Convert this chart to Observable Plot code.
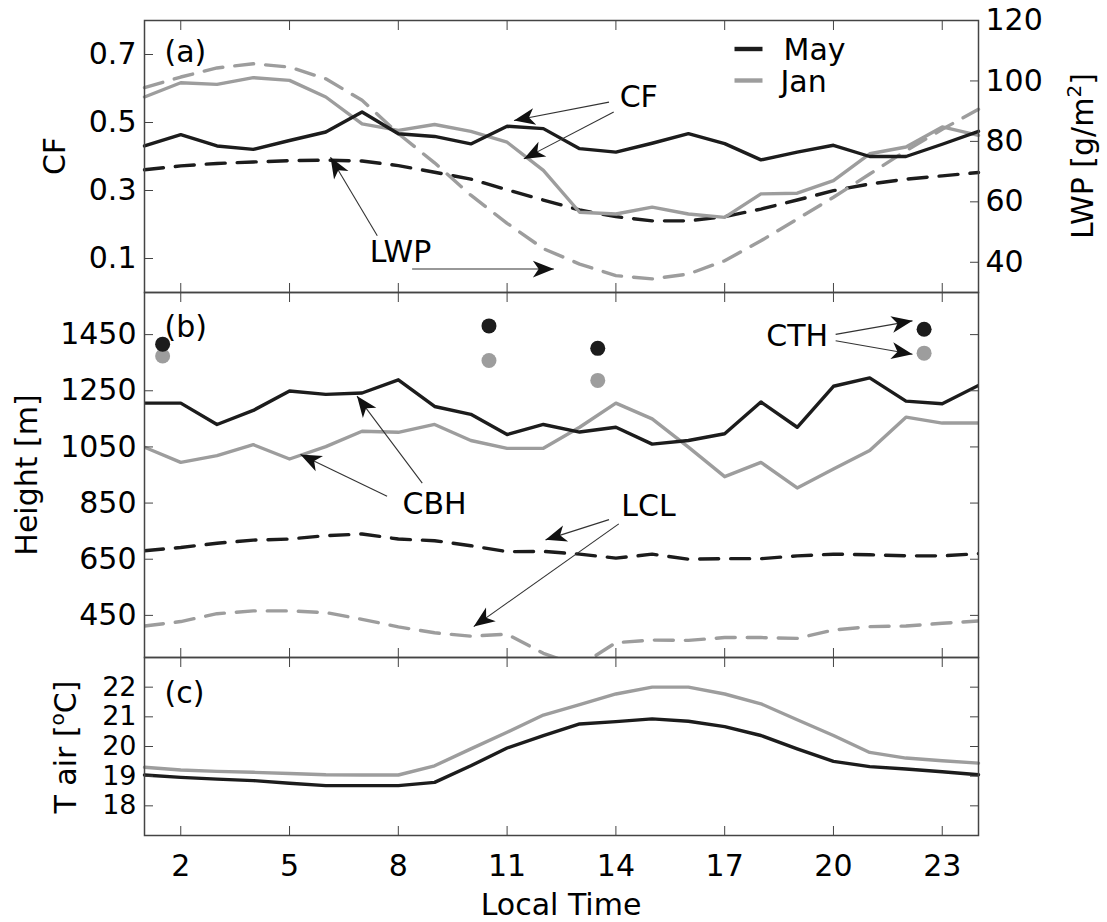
<!DOCTYPE html>
<html>
<head>
<meta charset="utf-8">
<script src="https://cdn.jsdelivr.net/npm/d3@7"></script>
<script src="https://cdn.jsdelivr.net/npm/@observablehq/plot@0.6"></script>
<style>
  body { margin: 0; background: #fff; }
  #chart { position: relative; width: 1107px; height: 922px; }
  #chart svg { position: absolute; left: 0; top: 0; background: transparent; overflow: visible; }
</style>
</head>
<body>
<div id="chart"></div>
<script>
// ---------------- data ----------------
const hours = [1,2,3,4,5,6,7,8,9,10,11,12,13,14,15,16,17,18,19,20,21,22,23,24];
const months = ["May", "Jan"];

const cfMay  = [0.431,0.464,0.431,0.421,0.447,0.472,0.531,0.467,0.459,0.437,0.489,0.482,0.423,0.413,0.439,0.467,0.438,0.390,0.413,0.433,0.400,0.400,0.436,0.474];
const cfJan  = [0.575,0.617,0.612,0.632,0.624,0.575,0.496,0.477,0.494,0.474,0.442,0.359,0.236,0.231,0.251,0.231,0.221,0.290,0.292,0.329,0.408,0.428,0.487,0.462];
const lwpMay = [70.6,71.9,72.7,73.2,73.6,73.8,73.5,72.0,69.8,67.5,64.0,60.6,57.3,55.1,53.7,53.7,55.1,57.6,60.6,63.7,65.9,67.5,68.6,69.7];
const lwpJan = [97.8,101.3,104.3,105.7,104.6,100.7,93.6,82.6,72.9,62.2,52.9,44.5,39.4,35.6,34.5,36.1,40.5,47.1,54.3,61.5,69.2,76.9,84.0,90.6];

const cbhMay = [1206,1206,1130,1180,1249,1237,1242,1289,1194,1166,1094,1130,1103,1120,1060,1073,1097,1210,1120,1266,1296,1213,1204,1269];
const cbhJan = [1049,995,1019,1058,1007,1051,1106,1102,1130,1073,1045,1045,1120,1206,1150,1049,944,995,904,971,1037,1156,1135,1135];
const lclMay = [680,692,707,718,722,734,740,722,716,698,677,678,668,654,668,650,652,652,662,668,666,662,662,670];
const lclJan = [412,428,456,466,466,460,436,409,388,376,383,315,270,353,362,361,371,371,368,398,410,412,422,430];
const cthHours = [1.5, 10.5, 13.5, 22.5];
const cthMay = [1416, 1481, 1401, 1469];
const cthJan = [1374, 1358, 1287, 1384];

const tairMay = [19.04,18.96,18.90,18.85,18.76,18.68,18.68,18.68,18.79,19.35,19.95,20.37,20.76,20.84,20.93,20.85,20.67,20.37,19.92,19.50,19.32,19.24,19.15,19.05];
const tairJan = [19.30,19.21,19.16,19.13,19.09,19.05,19.04,19.04,19.35,19.92,20.48,21.06,21.41,21.77,22.00,22.00,21.77,21.44,20.90,20.37,19.80,19.61,19.52,19.44];

const xTicks = [2,5,8,11,14,17,20,23];
const cfTicks = [0.1,0.3,0.5,0.7];
const lwpTicks = [40,60,80,100,120];
const heightTicks = [450,650,850,1050,1250,1450];
const tairTicks = [18,19,20,21,22];

// annotations (data units of each panel)
const notesA = [{text: "CF", x: 14.63, y: 0.575}, {text: "LWP", x: 8.06, y: 0.118}];
const arrowsA = [
  {x1: 13.81, y1: 0.560, x2: 11.19, y2: 0.506},
  {x1: 13.94, y1: 0.531, x2: 11.46, y2: 0.393},
  {x1: 7.42,  y1: 0.167, x2: 6.13,  y2: 0.398},
  {x1: 8.38,  y1: 0.069, x2: 12.29, y2: 0.069}
];
const notesB = [{text: "CBH", x: 9.0, y: 845}, {text: "LCL", x: 14.9, y: 838}, {text: "CTH", x: 19.0, y: 1445}];
const arrowsB = [
  {x1: 8.66,  y1: 921,  x2: 6.86,  y2: 1231},
  {x1: 7.69,  y1: 874,  x2: 5.30,  y2: 1023},
  {x1: 13.81, y1: 791,  x2: 12.06, y2: 719},
  {x1: 14.08, y1: 776,  x2: 10.08, y2: 410},
  {x1: 20.06, y1: 1451, x2: 22.18, y2: 1499},
  {x1: 20.06, y1: 1428, x2: 22.18, y2: 1380}
];

// ---------------- layout & style ----------------
const W = 1107, H = 922, ML = 144, MR = 129;
const xDomain = [1, 24];
const BLACK = "#1c1c1c", GRAY = "#9d9d9d", AXIS = "#444";
const colorOf = {May: BLACK, Jan: GRAY};
const FONT = "'DejaVu Sans', sans-serif";
const lwpToCf = v => (v - 30) / 112.5;   // right axis: 30..120 g/m2 on 0..0.8
const cfToLwp = c => c * 112.5 + 30;

const rows = hours.map((h, i) => ({h,
  cfMay: cfMay[i], cfJan: cfJan[i], lwpMay: lwpMay[i], lwpJan: lwpJan[i],
  cbhMay: cbhMay[i], cbhJan: cbhJan[i], lclMay: lclMay[i], lclJan: lclJan[i],
  tairMay: tairMay[i], tairJan: tairJan[i]}));
const cthRows = cthHours.flatMap((h, i) => [
  {h, v: cthJan[i], m: "Jan"}, {h, v: cthMay[i], m: "May"}]);

const arrowHead = {
  draw(ctx, size) {
    const r = Math.sqrt(size / Math.PI);
    const L = 2 * r, w = 0.8 * r, n = 1.45 * r;
    ctx.moveTo(0, 0); ctx.lineTo(w, L); ctx.lineTo(0, n); ctx.lineTo(-w, L); ctx.closePath();
  }
};
const segment = {
  draw(ctx) { ctx.moveTo(-14, -2.2); ctx.lineTo(14, -2.2); ctx.lineTo(14, 2.2); ctx.lineTo(-14, 2.2); ctx.closePath(); }
};

function arrowMarks(list, top, bottom, yDomain) {
  const xs = d3.scaleLinear(xDomain, [ML, W - MR]);
  const ys = d3.scaleLinear(yDomain, [bottom, top]);
  const angle = d => Math.atan2(xs(d.x2) - xs(d.x1), -(ys(d.y2) - ys(d.y1))) * 180 / Math.PI;
  return [
    Plot.link(list, {x1: "x1", y1: "y1", x2: "x2", y2: "y2", stroke: "#333", strokeWidth: 1.1}),
    Plot.dot(list, {x: "x2", y: "y2", symbol: arrowHead, r: 10.5, fill: "#111", stroke: "none", rotate: angle})
  ];
}

function frameMarks(yTicks, rightTicks, rightFormat, showX, yLabelSize = 30) {
  const fmt = d => `${d}`;
  return [
    Plot.frame({stroke: AXIS, strokeWidth: 1.5}),
    Plot.axisX({anchor: "top", ticks: xTicks, tickSize: 9, dy: 9, fill: "none", color: AXIS, label: null}),
    Plot.axisX({anchor: "bottom", ticks: xTicks, tickSize: 9, dy: -9, fill: "none", color: AXIS, label: null}),
    Plot.axisY({anchor: "left", ticks: yTicks, tickSize: 9, dx: 9, fill: "none", color: AXIS, label: null}),
    Plot.axisY({anchor: "left", ticks: yTicks, tickSize: 0, tickPadding: 8, color: "#000", fontSize: yLabelSize, tickFormat: fmt, label: null}),
    Plot.axisY({anchor: "right", ticks: rightTicks, tickSize: 9, dx: -9, fill: "none", color: AXIS, label: null}),
    rightFormat ? Plot.axisY({anchor: "right", ticks: rightTicks, tickSize: 0, tickPadding: 7, color: "#000", tickFormat: rightFormat, label: null}) : null,
    showX ? Plot.axisX({anchor: "bottom", ticks: xTicks, tickSize: 0, tickPadding: 19, color: "#000", tickFormat: fmt, label: null}) : null
  ];
}

function panel(top, bottom, yDomain, marks) {
  return Plot.plot({
    width: W, height: H,
    marginLeft: ML, marginRight: MR, marginTop: top, marginBottom: H - bottom,
    x: {domain: xDomain, label: null},
    y: {domain: yDomain, label: null},
    style: {fontFamily: FONT, fontSize: "30px", color: "#000", background: "transparent", overflow: "visible"},
    marks
  });
}

const lineOpts = (y, color, dashed, extra = {}) => ({x: "h", y, stroke: color, strokeWidth: 3.4,
  strokeDasharray: dashed ? "19,12" : null, strokeLinejoin: "round", ...extra});

// ---------------- panel (a) ----------------
const A = {top: 20, bottom: 292, domain: [0, 0.8]};
const plotA = panel(A.top, A.bottom, A.domain, [
  Plot.line(rows, lineOpts(d => lwpToCf(d.lwpMay), BLACK, true)),
  Plot.line(rows, lineOpts(d => lwpToCf(d.lwpJan), GRAY, true)),
  Plot.line(rows, lineOpts("cfJan", GRAY, false)),
  Plot.line(rows, lineOpts("cfMay", BLACK, false)),
  ...frameMarks(cfTicks, lwpTicks.map(lwpToCf), d => `${Math.round(cfToLwp(d))}`, false),
  Plot.text(["(a)"], {text: d => d, frameAnchor: "top-left", dx: 20, dy: 32, textAnchor: "start", lineAnchor: "middle"}),
  Plot.text(notesA, {x: "x", y: "y", text: "text", textAnchor: "middle", lineAnchor: "middle"}),
  ...arrowMarks(arrowsA, A.top, A.bottom, A.domain),
  // legend
  Plot.dot([months[0]], {frameAnchor: "top-right", dx: -230, dy: 28.5, symbol: segment, r: 5, fill: colorOf[months[0]], stroke: "none"}),
  Plot.dot([months[1]], {frameAnchor: "top-right", dx: -230, dy: 60, symbol: segment, r: 5, fill: colorOf[months[1]], stroke: "none"}),
  Plot.text([months[0]], {text: d => d, frameAnchor: "top-right", dx: -195, dy: 30, textAnchor: "start", lineAnchor: "middle"}),
  Plot.text([months[1]], {text: d => d, frameAnchor: "top-right", dx: -198, dy: 62, textAnchor: "start", lineAnchor: "middle"})
]);

// ---------------- panel (b) ----------------
const B = {top: 292, bottom: 657, domain: [300, 1600]};
const plotB = panel(B.top, B.bottom, B.domain, [
  Plot.line(rows, lineOpts("lclJan", GRAY, true, {clip: true})),
  Plot.line(rows, lineOpts("lclMay", BLACK, true, {clip: true})),
  Plot.line(rows, lineOpts("cbhJan", GRAY, false, {clip: true})),
  Plot.line(rows, lineOpts("cbhMay", BLACK, false, {clip: true})),
  Plot.dot(cthRows, {x: "h", y: "v", r: 7.5, fill: d => colorOf[d.m], stroke: "none"}),
  ...frameMarks(heightTicks, heightTicks, null, false),
  Plot.text(["(b)"], {text: d => d, frameAnchor: "top-left", dx: 20, dy: 35, textAnchor: "start", lineAnchor: "middle"}),
  Plot.text(notesB, {x: "x", y: "y", text: "text", textAnchor: "middle", lineAnchor: "middle"}),
  ...arrowMarks(arrowsB, B.top, B.bottom, B.domain)
]);

// ---------------- panel (c) ----------------
const C = {top: 657, bottom: 835, domain: [17, 23]};
const plotC = panel(C.top, C.bottom, C.domain, [
  Plot.line(rows, lineOpts("tairJan", GRAY, false)),
  Plot.line(rows, lineOpts("tairMay", BLACK, false)),
  ...frameMarks(tairTicks, tairTicks, null, true, 27),
  Plot.text(["(c)"], {text: d => d, frameAnchor: "top-left", dx: 20, dy: 36, textAnchor: "start", lineAnchor: "middle"})
]);

const chart = document.getElementById("chart");
chart.append(plotA, plotB, plotC);
d3.select(plotA).style("background", "#fff");

// ---------------- axis titles (with superscripts) ----------------
function title(svg, x, y, rotate, parts) {
  const t = d3.select(svg).append("text")
    .attr("transform", `translate(${x},${y})` + (rotate ? ` rotate(${rotate})` : ""))
    .attr("text-anchor", "middle").attr("fill", "#000")
    .attr("font-family", FONT).attr("font-size", 30);
  for (const p of parts) {
    const s = t.append("tspan").text(p.t);
    if (p.sup) s.attr("font-size", 20).attr("dy", -12);
    if (p.down) s.attr("dy", 12);
  }
}
title(plotA, 65, 156, -90, [{t: "CF"}]);
title(plotA, 1093, 156, -90, [{t: "LWP [g/m"}, {t: "2", sup: true}, {t: "]", down: true}]);
title(plotB, 37, 475, -90, [{t: "Height [m]"}]);
title(plotC, 76, 747, -90, [{t: "T air ["}, {t: "o", sup: true}, {t: "C]", down: true}]);
title(plotC, 561, 915, 0, [{t: "Local Time"}]);
</script>
</body>
</html>
